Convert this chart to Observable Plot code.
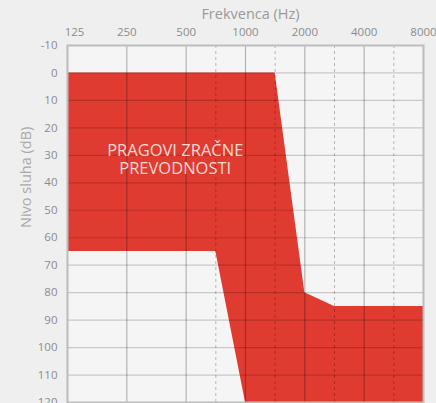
<!DOCTYPE html>
<html>
<head>
<meta charset="utf-8">
<script src="https://cdn.jsdelivr.net/npm/d3@7"></script>
<script src="https://cdn.jsdelivr.net/npm/@observablehq/plot@0.6"></script>
<style>
  html, body { margin: 0; padding: 0; background: #efefef; overflow: hidden; }
  #chart { width: 436px; height: 403px; }
</style>
</head>
<body>
<div id="chart"></div>
<script>
// Octave frequencies (labelled) and half-octave positions (dashed, geometric midpoints)
const octaveFreqs = [125, 250, 500, 1000, 2000, 4000, 8000];
const halfOctaveFreqs = [707, 1414, 2828, 5657];
// Hearing level ticks (dB)
const dbTicks = [-10, 0, 10, 20, 30, 40, 50, 60, 70, 80, 90, 100, 110, 120];

// Air-conduction threshold region: upper and lower boundary per frequency
const regionFreq  = [125, 707, 1000, 1414, 2000, 2828, 8000];
const regionUpper = [0,   0,   0,    0,    80,   85,   85];
const regionLower = [65,  65,  120,  120,  120,  120,  120];

const regionLabelLines = ["PRAGOVI ZRAČNE", "PREVODNOSTI"];
const labelPos = {freq: 440, db: 31.5};

const xTitle = "Frekvenca (Hz)";
const yTitle = "Nivo sluha (dB)";

const region = regionFreq.map((f, i) => ({freq: f, upper: regionUpper[i], lower: regionLower[i]}));

const font = "'Open Sans', 'DejaVu Sans', sans-serif";
const tickColor = "#8c8c8c";

const labelMark = (line, dy) => Plot.text([labelPos], {
  x: "freq", y: "db", text: () => line, dy, lineAnchor: "middle",
  fill: "#f6d9d5", fontSize: 16.5, fontFamily: font, textAnchor: "middle"
});

const chart = Plot.plot({
  width: 436,
  height: 403,
  marginLeft: 67,
  marginRight: 13,
  marginTop: 45,
  marginBottom: 1,
  style: {background: "transparent", fontFamily: font, fontSize: "11.5px", color: tickColor, overflow: "visible"},
  x: {type: "log", domain: [125, 8000], axis: null},
  y: {domain: [-10, 120], reverse: true, axis: null},
  marks: [
    Plot.frame({fill: "#f5f5f5", stroke: null}),
    Plot.areaY(region, {x: "freq", y1: "upper", y2: "lower", fill: "#e03b30", curve: "linear"}),
    Plot.ruleY(dbTicks, {stroke: "#000", strokeOpacity: 0.18, strokeWidth: 1.2}),
    Plot.ruleX(octaveFreqs, {stroke: "#000", strokeOpacity: 0.27, strokeWidth: 1.2}),
    Plot.ruleX(halfOctaveFreqs, {stroke: "#000", strokeOpacity: 0.25, strokeWidth: 1, strokeDasharray: "3,3"}),
    Plot.frame({stroke: "#bdbdbd", strokeWidth: 2}),
    labelMark(regionLabelLines[0], -9),
    labelMark(regionLabelLines[1], 9),
    // x tick labels (top)
    Plot.text(octaveFreqs.slice(1), {x: d => d, frameAnchor: "top", dy: -13, lineAnchor: "middle",
      text: d => String(d), fill: tickColor, fontSize: 11.5}),
    Plot.text(octaveFreqs.slice(0, 1), {x: d => d, frameAnchor: "top", dy: -13, dx: 7, lineAnchor: "middle",
      text: d => String(d), fill: tickColor, fontSize: 11.5}),
    // y tick labels (left)
    Plot.text(dbTicks, {y: d => d, frameAnchor: "left", dx: -10, textAnchor: "end", lineAnchor: "middle",
      text: d => String(d), fill: tickColor, fontSize: 11.5}),
    Plot.text([xTitle], {frameAnchor: "top", dy: -31, dx: 5, lineAnchor: "middle", text: d => d, fill: "#9a9a9a", fontSize: 14.5, fontFamily: font}),
    Plot.text([yTitle], {frameAnchor: "left", dx: -41, dy: 4, rotate: -90, text: d => d, fill: "#a8a8a8", fontSize: 14.5, fontFamily: font})
  ]
});
document.getElementById("chart").appendChild(chart);
</script>
</body>
</html>
